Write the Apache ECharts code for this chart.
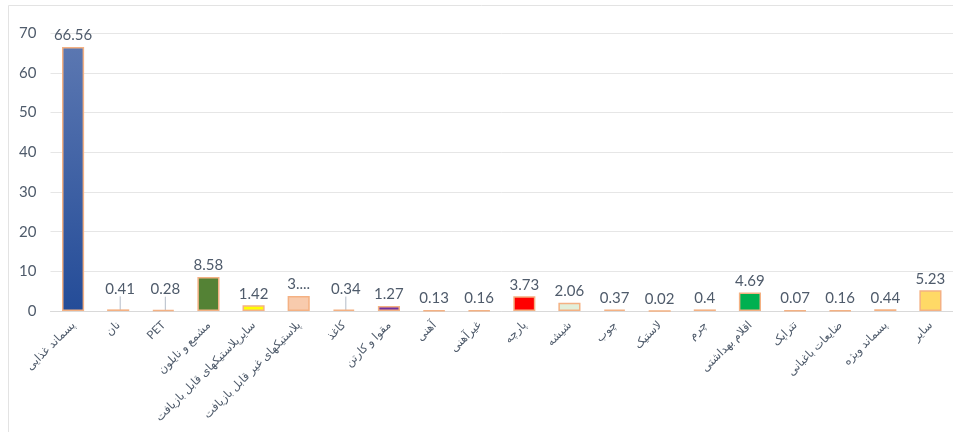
<!DOCTYPE html>
<html>
<head>
<meta charset="utf-8">
<script src="https://cdn.jsdelivr.net/npm/echarts@6/dist/echarts.min.js"></script>
<style>
html,body{margin:0;padding:0;background:#fff;}
#c{width:953px;height:432px;}
</style>
</head>
<body>
<div id="c"></div>
<script>
var categories = ["پسماند غذایی","نان","PET","مشمع و نایلون","سایرپلاستیکهای قابل بازیافت","پلاستیکهای غیر قابل بازیافت","کاغذ","مقوا و کارتن","آهنی","غیرآهنی","پارچه","شیشه","چوب","لاستیک","چرم","اقلام بهداشتی","تتراپک","ضایعات باغبانی","پسماند ویژه","سایر"];
var values = [66.56,0.41,0.28,8.58,1.42,3.75,0.34,1.27,0.13,0.16,3.73,2.06,0.37,0.02,0.4,4.69,0.07,0.16,0.44,5.23];
var valueLabels = ["66.56","0.41","0.28","8.58","1.42","3....","0.34","1.27","0.13","0.16","3.73","2.06","0.37","0.02","0.4","4.69","0.07","0.16","0.44","5.23"];
var yTicks = [0,10,20,30,40,50,60,70];
var peach = "#F8CBAD";
var barColors = ["blue",peach,peach,"#548235","#FFFF00",peach,peach,"#7030A0",peach,peach,"#FF0000","#E2EFDA",peach,peach,peach,"#00B050",peach,peach,peach,"#FFD966"];
var leaderIdx = [1,2,6];

var chart = echarts.init(document.getElementById('c'));
var txt = "#4f5b6b";
var data = values.map(function(v,i){
  var c = barColors[i];
  if (c === "blue") {
    c = new echarts.graphic.LinearGradient(0,0,0,1,[{offset:0,color:"#5b77b1"},{offset:1,color:"#244c98"}]);
  }
  var d = {value:v, itemStyle:{color:c}};
  if (leaderIdx.indexOf(i)>=0) d.labelLine = {show:true, lineStyle:{color:'#b4bcc8',width:1}};
  return d;
});
chart.setOption({
  animation:false,
  graphic:[{type:'rect',shape:{x:8.5,y:5.5,width:960,height:440},style:{fill:'none',stroke:'#e3e3e3',lineWidth:1},silent:true}],
  grid:{left:50.5,right:-7.5,top:33.3,bottom:121,containLabel:false},
  xAxis:{
    type:'category',
    data:categories,
    axisLine:{show:true,lineStyle:{color:'#d9d9d9',width:1}},
    axisTick:{show:false},
    axisLabel:{rotate:45,interval:0,margin:12,fontSize:11.5,color:txt,fontFamily:'Lato, DejaVu Sans, sans-serif'}
  },
  yAxis:{
    type:'value',min:0,max:70,interval:10,
    axisLine:{show:false},axisTick:{show:false},
    splitLine:{lineStyle:{color:'#e6e6e6',width:1}},
    axisLabel:{fontSize:15,color:txt,margin:14,fontFamily:'Lato, sans-serif',
      formatter:function(v){return yTicks.indexOf(v)>=0?String(v):'';}}
  },
  series:[{
    type:'bar',
    data:data,
    barCategoryGap:'51%',
    itemStyle:{borderColor:'#F4B183',borderWidth:1.5},
    label:{show:true,position:'top',distance:4,fontSize:15,color:txt,fontFamily:'Lato, sans-serif',
      formatter:function(p){return valueLabels[p.dataIndex];}},
    labelLine:{show:false},
    labelLayout:function(p){
      if (leaderIdx.indexOf(p.dataIndex)>=0) return {dy:-9,dx:2};
      return {};
    }
  }]
});
</script>
</body>
</html>
